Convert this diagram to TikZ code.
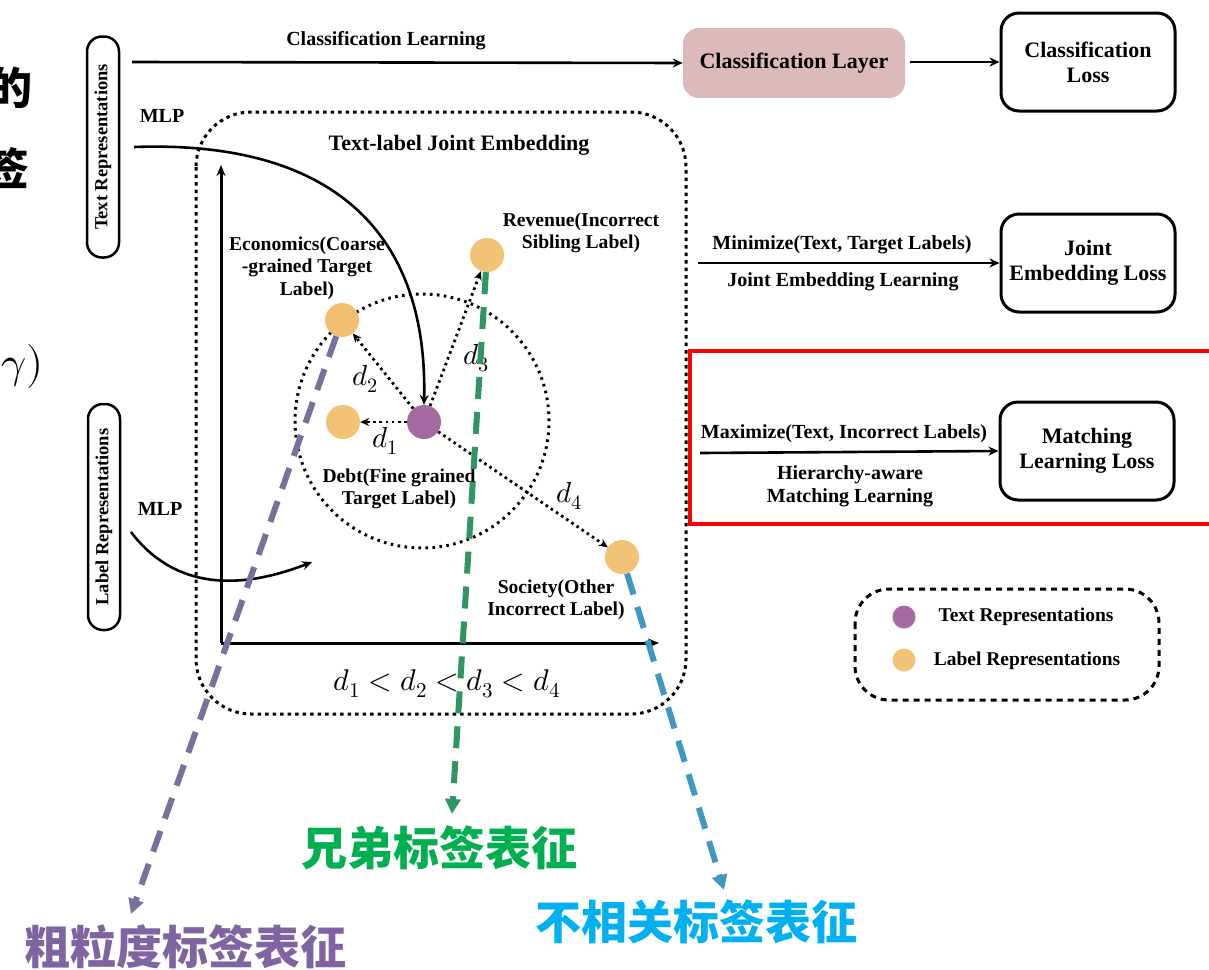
\documentclass[tikz,border=0pt]{standalone}
\usepackage{fontspec}
\usepackage{unicode-math}
\setmainfont{Liberation Serif}
\setmathfont{Latin Modern Math}
\newfontfamily\cjk{Noto Sans CJK SC}
\usetikzlibrary{arrows.meta}

\definecolor{layerpink}{HTML}{DCB9BA}
\definecolor{textdotc}{HTML}{A66AA2}
\definecolor{labeldotc}{HTML}{F2C376}
\definecolor{guidepurple}{HTML}{77719C}
\definecolor{guidegreen}{HTML}{2F9663}
\definecolor{guideblue}{HTML}{3E98C2}
\definecolor{cjkpurple}{HTML}{8064A2}
\definecolor{cjkgreen}{HTML}{00B050}
\definecolor{cjkblue}{HTML}{00B0F0}

\begin{document}
\begin{tikzpicture}[x=1pt,y=-1pt,
  lbl/.style={font=\fontsize{20}{23}\selectfont\bfseries, align=center, inner sep=0pt},
  small/.style={font=\fontsize{19.6}{22.5}\selectfont\bfseries, align=center, inner sep=0pt},
  lossbox/.style={draw, line width=3pt, rounded corners=18pt, minimum width=174pt,
    minimum height=98pt, align=center, inner sep=0pt,
    font=\fontsize{22}{25}\selectfont\bfseries},
  pill/.style={draw, line width=2.5pt, rounded corners=15pt, minimum height=32pt,
    inner sep=0pt, rotate=90, font=\fontsize{18.5}{20}\selectfont\bfseries},
  dot/.style={circle, inner sep=0pt, minimum size=34pt},
  flow/.style={line width=2.6pt, -{Stealth[length=10pt,width=9pt]}},
  dotarrow/.style={line width=2.8pt, dash pattern=on 2.6pt off 3.6pt,
    -{Stealth[length=9pt,width=8pt]}},
  guide/.style={line width=6pt, dash pattern=on 22pt off 13pt,
    -{Triangle[length=15pt,width=15pt]}},
  dmath/.style={font=\fontsize{29}{32}\selectfont, inner sep=0pt},
  cjklabel/.style={font=\fontsize{46}{50}\selectfont\cjk\bfseries, inner sep=0pt}
]
\useasboundingbox (0,0) rectangle (1209,969);
\fill[white] (0,0) rectangle (1209,969);

% fragments of the neighbouring slide text
\node[cjklabel, text=black, font=\fontsize{44}{48}\selectfont\cjk\bfseries] (frag1) at (10,88) {的};
\node[cjklabel, text=black, font=\fontsize{44}{48}\selectfont\cjk\bfseries] (frag2) at (8,168) {签};
\node[anchor=east, inner sep=0pt, font=\fontsize{44}{48}\selectfont] (frag3) at (44,366) {$\gamma)$};

% input representations
\node[pill, minimum width=221pt] (textrep) at (103,147) {Text Representations};
\node[pill, minimum width=226pt] (labelrep) at (104,517) {Label Representations};

% classification branch
\node[fill=layerpink, rounded corners=16pt, minimum width=222pt, minimum height=70pt,
  lbl, font=\fontsize{22}{25}\selectfont\bfseries] (clslayer) at (794,63) {Classification Layer};
\node[lossbox] (clsloss) at (1088,62) {Classification\\Loss};
\coordinate (clsstart) at (132,62);
\draw[flow] (clsstart) -- (clslayer.west);
\node[lbl] (clslearn) at (386,41) {Classification Learning};
\coordinate (clsout) at (910,62);
\draw[flow] (clsout) -- (clsloss.west);

% joint embedding branch
\node[lossbox] (jointloss) at (1088,263) {Joint\\Embedding Loss};
\coordinate (jointstart) at (698,263);
\draw[flow] (jointstart) -- (jointloss.west);
\node[lbl] (minlbl) at (842,245) {Minimize(Text, Target Labels)};
\node[lbl] (jointlbl) at (843,282) {Joint Embedding Learning};

% matching branch
\node[lossbox] (matchloss) at (1087,451) {Matching\\Learning Loss};
\coordinate (matchstart) at (700,453);
\draw[flow] (matchstart) -- (matchloss.west);
\node[lbl] (maxlbl) at (844,434) {Maximize(Text, Incorrect Labels)};
\node[lbl] (hierlbl) at (850,486) {Hierarchy-aware\\Matching Learning};
\draw[red, line width=4pt] (690,351) rectangle (1230,524);

% joint embedding space
\draw[line width=3pt, dash pattern=on 3.5pt off 4pt, rounded corners=55pt]
  (196,112) rectangle (686,714);
\node[lbl, font=\fontsize{22}{25}\selectfont\bfseries] (jointtitle) at (459,145) {Text-label Joint Embedding};

\coordinate (origin) at (221,643);
\coordinate (ytop) at (221,165);
\coordinate (xend) at (659,643);
\draw[line width=3pt, -{Stealth[length=11pt,width=9pt]}] (origin) -- (ytop);
\draw[line width=3pt, -{Stealth[length=11pt,width=9pt]}] (origin) -- (xend);

\draw[line width=3pt, dash pattern=on 2.6pt off 4.4pt] (422,421) circle[radius=127pt];

\node[dot, fill=textdotc] (t) at (424,422) {};
\node[dot, fill=labeldotc] (debt) at (343,422) {};
\node[dot, fill=labeldotc!95!orange] (econ) at (342,320) {};
\node[dot, fill=labeldotc] (rev) at (487,255) {};
\node[dot, fill=labeldotc] (soc) at (622,557) {};

\node[small] (econlbl) at (307,268) {Economics(Coarse\\-grained Target\\Label)};
\node[small] (revlbl) at (581,233) {Revenue(Incorrect\\Sibling Label)};
\node[small] (debtlbl) at (399,489) {Debt(Fine grained\\Target Label)};
\node[small] (soclbl) at (556,600) {Society(Other\\Incorrect Label)};

\draw[dotarrow] (t) -- (debt);
\draw[dotarrow] (t) -- (econ);
\draw[dotarrow] (t) -- (rev);
\draw[dotarrow] (t) -- (soc);
\node[dmath] (d1) at (385,441) {$d_1$};
\node[dmath] (d2) at (365,379) {$d_2$};
\node[dmath] (d3) at (476,358) {$d_3$};
\node[dmath] (d4) at (569,496) {$d_4$};
\node[dmath, font=\fontsize{30}{33}\selectfont] (ineq) at (447,684) {$d_1 < d_2 < d_3 < d_4$};

% MLP projections
\node[lbl] (mlptop) at (162,116) {MLP};
\node[lbl] (mlpbot) at (160,509) {MLP};
\coordinate (mlptopstart) at (134,147);
\coordinate (mlpbotstart) at (131,532);
\coordinate (mlpbotend) at (312,562);
\draw[flow] (mlptopstart) .. controls (330,140) and (428,230) .. (t.north);
\draw[flow] (mlpbotstart) .. controls (175,590) and (240,590) .. (mlpbotend);

% legend
\draw[line width=3pt, dash pattern=on 6pt off 5pt, rounded corners=34pt]
  (855,589) rectangle (1159,700);
\node[dot, minimum size=23pt, fill=textdotc] (legt) at (904,617) {};
\node[dot, minimum size=23pt, fill=labeldotc] (legl) at (904,660) {};
\node[lbl, font=\fontsize{19.5}{22}\selectfont\bfseries] (legtlbl) at (1026,617) {Text Representations};
\node[lbl, font=\fontsize{19.5}{22}\selectfont\bfseries] (legllbl) at (1027,661) {Label Representations};

% highlighted label groups
\coordinate (coarseend) at (131,914);
\coordinate (sibend) at (452,814);
\coordinate (irrend) at (724,890);
\draw[guide, guidepurple] (econ) -- (coarseend);
\draw[guide, guidegreen] (rev) -- (sibend);
\draw[guide, guideblue] (soc) -- (irrend);
\node[cjklabel, text=cjkgreen] (sib) at (439,848) {兄弟标签表征};
\node[cjklabel, text=cjkblue] (irr) at (696,922) {不相关标签表征};
\node[cjklabel, text=cjkpurple] (coarse) at (185,947) {粗粒度标签表征};
\end{tikzpicture}
\end{document}
